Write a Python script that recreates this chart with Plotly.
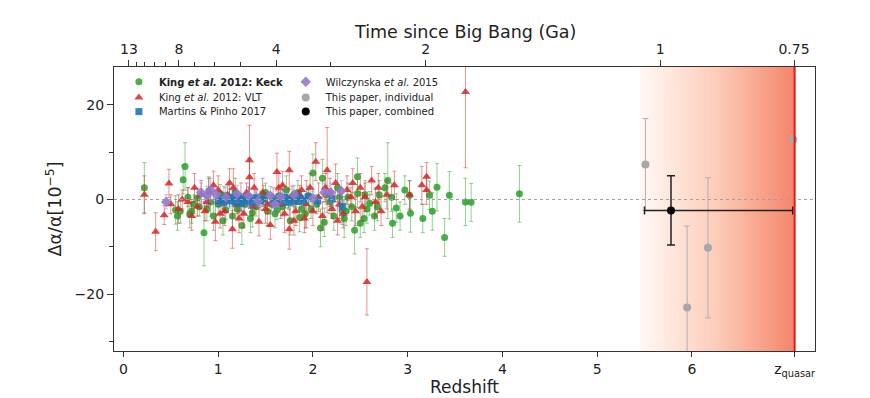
import numpy as np
import plotly.graph_objects as go

# ---------------- data ----------------
keck_z = [0.22, 0.55, 0.57, 0.60, 0.63, 0.65, 0.68, 0.70, 0.72, 0.74, 0.78, 0.80, 0.85, 0.88, 0.90,
          0.92, 0.95, 1.00, 1.02, 1.05, 1.06, 1.08, 1.12, 1.15, 1.18, 1.20, 1.22, 1.25, 1.28, 1.32,
          1.34, 1.36, 1.40, 1.45, 1.48, 1.50, 1.52, 1.56, 1.60, 1.62, 1.64, 1.68, 1.72, 1.74, 1.76,
          1.80, 1.84, 1.86, 1.88, 1.92, 1.95, 1.98, 2.00, 2.04, 2.08, 2.10, 2.12, 2.14, 2.18, 2.22,
          2.26, 2.28, 2.31, 2.33, 2.35, 2.37, 2.41, 2.44, 2.47, 2.47, 2.50, 2.54, 2.55, 2.57, 2.60,
          2.65, 2.68, 2.70, 2.76, 2.79, 2.83, 2.84, 2.88, 2.92, 2.97, 3.02, 3.03, 3.16, 3.23, 3.26,
          3.31, 3.39, 3.44, 3.61, 3.67, 4.18]
keck_da = [2.5, -2.2, -3.5, -2.5, 4.2, 7.0, 0.5, -3.0, -2.5, -1.0, 0.3, -1.5, -7.0, -2.0, 1.8,
           -0.5, -3.5, -1.0, 1.2, -4.5, 0.8, -2.2, 0.2, -3.5, 1.5, -2.0, -0.8, -5.5, -1.0, 0.5,
           -4.0, -2.8, -1.5, -0.2, 1.0, 1.5, -2.5, -1.0, -3.0, -2.2, 0.8, -1.5, 2.0, 0.2, -4.5,
           -0.5, 1.5, -3.8, -2.0, -3.0, 0.8, -2.0, 5.6, -1.0, -6.0, 4.5, -4.8, 1.0, -0.5, -3.5,
           2.5, 0.5, -2.3, -4.0, -2.5, 0.5, -1.5, -6.5, 1.3, 4.8, -5.0, -4.0, 1.0, -2.0, -0.8,
           -3.5, -1.5, 1.0, 2.5, 4.0, 0.5, -5.0, -1.8, -3.5, 2.0, 0.9, -2.9, -4.0, 0.9, -2.5,
           2.6, -8.0, 0.9, -0.5, -0.6, 1.2]
keck_err = [5.3, 3.0, 3.0, 2.5, 3.0, 5.0, 2.0, 3.0, 2.5, 2.0, 2.0, 2.0, 7.0, 2.5, 3.0,
            3.0, 3.0, 2.0, 2.0, 3.0, 2.0, 2.0, 2.0, 2.5, 3.0, 2.0, 2.0, 4.0, 2.0, 2.0,
            3.0, 3.0, 2.0, 2.0, 2.0, 2.0, 3.0, 2.0, 3.0, 2.0, 2.0, 2.0, 3.0, 2.0, 3.0,
            2.0, 2.5, 3.0, 2.5, 3.0, 2.0, 2.0, 4.0, 2.0, 4.0, 4.0, 3.0, 2.0, 2.5, 3.0,
            3.0, 2.0, 3.0, 4.0, 3.0, 3.0, 3.0, 5.0, 3.0, 4.0, 3.0, 3.0, 3.0, 3.0, 2.5,
            3.0, 3.0, 3.0, 3.0, 8.0, 3.0, 3.0, 3.0, 3.0, 3.0, 3.0, 4.0, 3.0, 3.0, 4.0,
            5.0, 4.0, 5.0, 5.0, 4.0, 6.0]

vlt_z = [0.22, 0.34, 0.43, 0.48, 0.50, 0.58, 0.62, 0.68, 0.72, 0.75, 0.78, 0.82, 0.86, 0.88, 0.90,
         0.95, 0.97, 1.00, 1.02, 1.04, 1.07, 1.10, 1.12, 1.15, 1.16, 1.20, 1.22, 1.24, 1.27, 1.30,
         1.33, 1.33, 1.36, 1.38, 1.40, 1.43, 1.47, 1.50, 1.52, 1.55, 1.58, 1.62, 1.64, 1.66, 1.68,
         1.70, 1.75, 1.75, 1.78, 1.80, 1.82, 1.86, 1.88, 1.91, 1.93, 1.97, 2.00, 2.03, 2.06, 2.10,
         2.13, 2.15, 2.18, 2.20, 2.24, 2.26, 2.28, 2.32, 2.36, 2.40, 2.42, 2.45, 2.50, 2.52, 2.55,
         2.57, 2.62, 2.66, 2.69, 2.72, 2.78, 2.86, 3.02, 3.15, 3.20, 3.20, 3.61]
vlt_da = [1.0, -6.8, -3.3, 3.4, -1.0, -2.0, 0.0, -0.5, -3.5, 2.5, -1.5, 1.0, -2.5, -0.5, 1.5,
          3.0, -4.7, 2.0, -3.0, -0.5, -2.5, 1.0, 3.5, -6.3, 2.5, -1.0, -4.0, 0.5, -3.0, 1.5,
          8.3, 4.7, -1.5, 2.5, 0.0, -4.7, 1.5, -2.0, -1.0, -5.4, 0.5, 5.8, 2.5, -1.0, 3.0,
          -3.0, 6.2, -6.3, 0.8, -4.5, -2.5, 1.0, 2.0, -4.0, -1.0, 2.5, -2.5, 8.0, 0.5, -3.5,
          2.5, 6.2, 1.5, -2.0, 3.5, -4.5, -1.0, -3.0, 2.0, 0.5, 3.5, -2.5, 2.5, -1.5, 0.5,
          -17.4, 4.0, -0.5, 2.5, -2.5, 1.0, 3.0, 1.0, 3.0, 4.8, 2.0, 22.7]
vlt_err = [4.0, 4.0, 2.0, 3.0, 2.0, 3.0, 2.0, 3.0, 3.0, 3.0, 2.0, 3.0, 2.0, 2.0, 3.0,
           3.0, 4.0, 3.0, 3.0, 2.0, 3.0, 2.0, 3.0, 4.0, 4.0, 2.0, 3.0, 3.0, 3.0, 2.0,
           7.4, 4.0, 2.0, 3.0, 2.0, 3.0, 3.0, 3.0, 2.0, 3.0, 2.0, 4.0, 3.0, 3.0, 3.0,
           4.0, 4.0, 4.2, 2.0, 3.0, 3.0, 2.0, 3.0, 3.0, 5.0, 3.0, 3.0, 4.0, 3.0, 3.0,
           3.0, 9.0, 3.0, 2.0, 4.0, 3.0, 3.0, 3.0, 3.0, 2.0, 3.0, 3.0, 3.0, 3.0, 3.0,
           7.0, 3.0, 3.0, 3.0, 3.0, 3.0, 3.0, 3.0, 4.0, 3.0, 3.0, 16.0]

mp_z = [1.00, 1.03, 1.06, 1.09, 1.12, 1.15, 1.18, 1.21, 1.24, 1.27, 1.30, 1.33, 1.36, 1.40, 1.44,
        1.48, 1.58, 1.62, 1.66, 1.70, 1.74, 1.78, 1.82, 1.86, 1.90, 1.95, 2.05, 2.20, 2.31]
mp_da = [-0.3, 0.2, -0.6, 0.4, -0.2, 0.5, -0.5, 0.1, -0.8, 0.3, -0.4, 0.2, -0.6, 0.4, -0.2,
         0.1, -0.5, 0.2, -0.3, 0.5, -0.6, 0.0, -0.4, 0.3, -0.2, 0.6, -0.3, 0.2, -1.5]
mp_err = [1.2, 1.0, 1.3, 1.0, 1.2, 1.5, 1.0, 1.2, 1.5, 1.0, 1.2, 1.0, 1.3, 1.2, 1.0,
          1.2, 1.3, 1.0, 1.2, 1.5, 1.2, 1.0, 1.2, 1.3, 1.0, 1.5, 1.2, 1.5, 2.0]

wil_z = [0.45, 0.82, 0.88, 0.92, 0.98, 1.08, 1.20, 1.32, 1.42, 1.55, 1.60, 1.66, 1.80, 2.00, 2.12,
         2.19, 2.30]
wil_da = [-0.5, 1.5, 0.8, 2.0, 1.0, 0.5, 1.2, 0.8, -0.3, 0.8, -1.0, 0.6, 1.0, 0.3, 1.5, 1.5, 1.8]
wil_err = [1.5, 2.0, 2.0, 2.5, 1.5, 2.0, 1.8, 2.0, 1.5, 2.0, 1.8, 1.5, 2.0, 1.8, 2.0, 2.0, 2.2]

ind_z = [5.51, 5.95, 6.17, 7.07]
ind_da = [7.4, -22.8, -10.2, 12.7]
ind_err = [9.7, 17.2, 14.8, None]

comb_z = [5.78]
comb_da = [-2.3]
comb_err = [7.3]
comb_zlo = [5.50]
comb_zhi = [7.065]

z_quasar = 7.085
z_shade_start = 5.45

age_labels = [13, 8, 4, 2, 1, 0.75]
age_minor = [12, 11, 10, 9, 7, 6, 5, 3]
z_ticks = [0, 1, 2, 3, 4, 5, 6]

# flat LCDM age -> redshift (for top axis tick positions)
H0, Om = 67.4, 0.315
OL = 1 - Om
hubble_time = 977.8 / H0  # Gyr


def z_of_age(t):
    s = np.sinh(np.asarray(t, float) * 1.5 * np.sqrt(OL) / hubble_time)
    return (np.sqrt(OL / Om) / s) ** (2.0 / 3.0) - 1.0


XR = [-0.1, 7.3]
YR = [-32, 28]
FONT = "DejaVu Sans"
TXT = "#222222"

fig = go.Figure()

# gradient shading towards the quasar
edges = np.linspace(z_shade_start, z_quasar, 121)
centers = 0.5 * (edges[:-1] + edges[1:])
fig.add_trace(go.Heatmap(
    x=edges, y=YR, z=[centers],
    colorscale=[[0, "#fff8f5"], [0.5, "#fcccb8"], [1, "#f4856a"]],
    showscale=False, hoverinfo="skip", showlegend=False,
))


def err_style(color, w=2):
    return dict(type="data", color=color, thickness=1, width=w, visible=True)


fig.add_trace(go.Scatter(
    x=keck_z, y=keck_da, mode="markers", name="<b>King <i>et al.</i> 2012: Keck</b>",
    marker=dict(symbol="circle", size=7, color="rgba(44,160,44,0.85)"),
    error_y=dict(array=keck_err, **err_style("rgba(44,160,44,0.5)")),
    legend="legend",
))
fig.add_trace(go.Scatter(
    x=vlt_z, y=vlt_da, mode="markers", name="King <i>et al.</i> 2012: VLT",
    marker=dict(symbol="triangle-up", size=8, color="rgba(214,39,40,0.85)"),
    error_y=dict(array=vlt_err, **err_style("rgba(214,39,40,0.5)")),
    legend="legend2",
))
fig.add_trace(go.Scatter(
    x=mp_z, y=mp_da, mode="markers", name="Martins & Pinho 2017",
    marker=dict(symbol="square", size=7, color="rgba(31,119,180,0.9)"),
    error_y=dict(array=mp_err, **err_style("rgba(31,119,180,0.5)")),
    legend="legend3",
))
fig.add_trace(go.Scatter(
    x=wil_z, y=wil_da, mode="markers", name="Wilczynska <i>et al.</i> 2015",
    marker=dict(symbol="diamond", size=8, color="rgba(148,120,210,0.9)"),
    error_y=dict(array=wil_err, **err_style("rgba(148,120,210,0.5)")),
    legend="legend4",
))
fig.add_trace(go.Scatter(
    x=ind_z, y=ind_da, mode="markers", name="This paper, individual",
    marker=dict(symbol="circle", size=8, color="#a8a8a8"),
    error_y=dict(array=ind_err, **err_style("#b0b0b0", 3)),
    legend="legend5",
))
fig.add_trace(go.Scatter(
    x=comb_z, y=comb_da, mode="markers", name="This paper, combined",
    marker=dict(symbol="circle", size=8, color="black"),
    error_y=dict(array=comb_err, type="data", color="#222", thickness=1.5, width=4),
    error_x=dict(type="data", symmetric=False,
                 array=[h - c for h, c in zip(comb_zhi, comb_z)],
                 arrayminus=[c - l for c, l in zip(comb_z, comb_zlo)],
                 color="#222", thickness=1.5, width=4),
    legend="legend6",
))

# invisible trace for top axis
fig.add_trace(go.Scatter(x=XR, y=[0, 0], xaxis="x2", mode="markers",
                         marker=dict(opacity=0), showlegend=False, hoverinfo="skip"))

# zero line and quasar line
fig.add_shape(type="line", xref="paper", yref="y", x0=0, x1=1, y0=0, y1=0,
              line=dict(color="#a0a0a0", width=1, dash="dot"))
fig.add_shape(type="line", xref="x", yref="paper", x0=z_quasar, x1=z_quasar, y0=0, y1=1,
              line=dict(color="#e3191c", width=2))

top_vals = [float(z_of_age(a)) for a in age_labels]
top_text = [("%g" % a) for a in age_labels]
top_minor = [float(z_of_age(a)) for a in age_minor]

fig.add_annotation(text="Time since Big Bang (Ga)", xref="paper", yref="paper",
                   x=0.5, y=1.124, xanchor="center", yanchor="middle",
                   showarrow=False, font=dict(size=17.5, color=TXT))


def leg(x, y):
    return dict(x=x, y=y, xanchor="left", yanchor="middle", bgcolor="rgba(0,0,0,0)",
                font=dict(size=10), itemwidth=30, borderwidth=0)


col1, col2 = 0.007, 0.245
rows = [0.948, 0.893, 0.843]

fig.update_layout(
    width=870, height=398,
    margin=dict(l=106, r=63, t=59, b=55),
    paper_bgcolor="white", plot_bgcolor="white",
    font=dict(family=FONT, color=TXT, size=14),
    xaxis=dict(
        range=XR, showgrid=False, zeroline=False, automargin=False,
        showline=True, linecolor="#333", linewidth=1.2, mirror=True,
        ticks="outside", ticklen=5, tickcolor="#333",
        tickmode="array", tickvals=z_ticks + [z_quasar],
        ticktext=[str(v) for v in z_ticks] + ["z<sub>quasar</sub>"],
        tickfont=dict(size=14),
        title=dict(text="Redshift", font=dict(size=17), standoff=1),
    ),
    xaxis2=dict(
        range=XR, overlaying="x", side="top", anchor="y", automargin=False,
        showgrid=False, zeroline=False, showline=False,
        ticks="outside", ticklen=6, tickcolor="#333",
        tickmode="array", tickvals=top_vals, ticktext=top_text,
        tickfont=dict(size=14),
        minor=dict(tickmode="array", tickvals=top_minor, ticks="outside",
                   ticklen=4, tickcolor="#333"),
    ),
    yaxis=dict(
        range=YR, showgrid=False, zeroline=False, automargin=False,
        showline=True, linecolor="#333", linewidth=1.2, mirror=True,
        ticks="outside", ticklen=6, tickcolor="#333",
        tickmode="array", tickvals=[-20, 0, 20], ticktext=["−20", "0", "20"],
        tickfont=dict(size=14),
        minor=dict(tickmode="array", tickvals=[-30, -10, 10], ticks="outside",
                   ticklen=4, tickcolor="#333"),
        title=dict(text="Δα/α[10<sup>−5</sup>]", font=dict(size=17.5), standoff=8),
    ),
    legend=leg(col1, rows[0]),
    legend2=leg(col1, rows[1]),
    legend3=leg(col1, rows[2]),
    legend4=leg(col2, rows[0]),
    legend5=leg(col2, rows[1]),
    legend6=leg(col2, rows[2]),
    showlegend=True,
)

fig.write_html("out.html")
